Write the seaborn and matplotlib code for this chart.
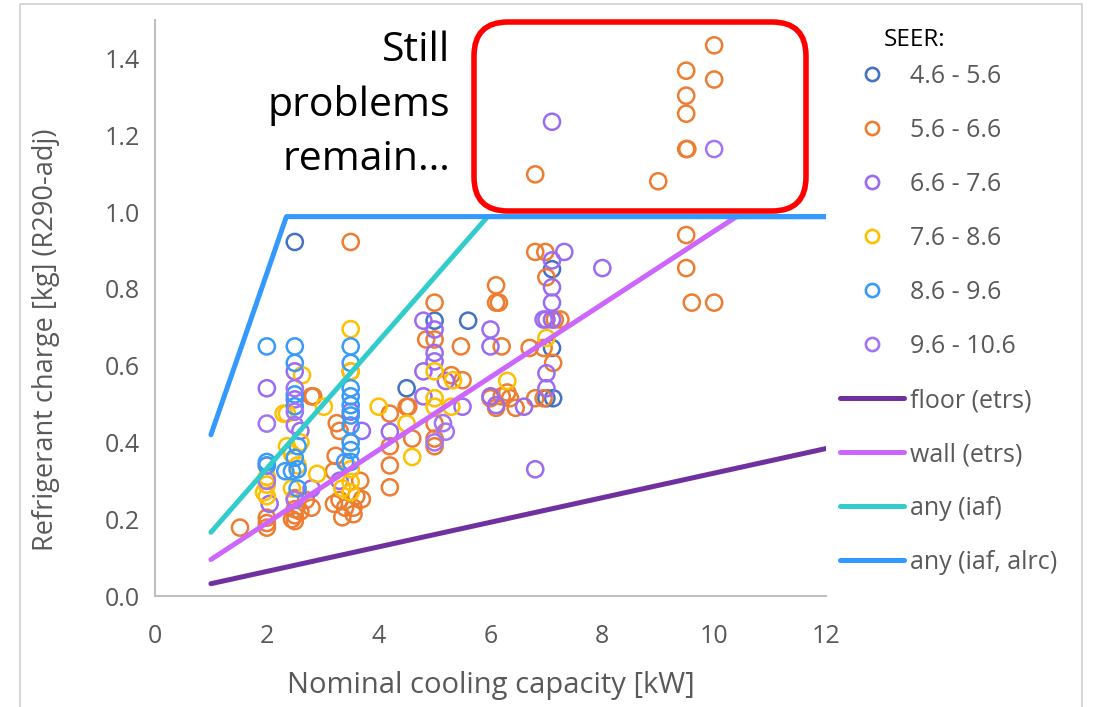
import numpy as np
import pandas as pd
import matplotlib
matplotlib.use("Agg")
import matplotlib.pyplot as plt
import seaborn as sns
from matplotlib.patches import FancyBboxPatch, Rectangle
from matplotlib.lines import Line2D

sns.set_theme(style="white")
plt.rcParams['font.family'] = ['Open Sans', 'DejaVu Sans']

# ---------------- data ----------------
seer_labels = ["4.6 - 5.6", "5.6 - 6.6", "6.6 - 7.6", "7.6 - 8.6", "8.6 - 9.6", "9.6 - 10.6"]
seer_colors = ["#4472C4", "#ED7D31", "#9B6BF2", "#FFC000", "#3A9BF7", "#A374F5"]

s1_x = [2.5, 4.5, 5.0, 5.6, 7.1, 7.1, 7.0, 7.12]
s1_y = [0.922, 0.541, 0.717, 0.717, 0.851, 0.646, 0.515, 0.515]

s2_x = [9.5, 9.5, 9.5, 9.5, 9.52, 10.0, 10.0, 6.8, 9.0,
        9.5, 9.5, 9.6, 10.0, 3.5,
        6.8, 6.98, 7.0, 6.1, 6.1, 6.15, 5.0,
        4.85, 5.0, 5.47, 6.2, 7.15, 7.25, 6.7, 6.95, 7.12,
        6.8, 6.95, 6.45, 6.3, 6.35, 6.2, 6.1, 6.0,
        5.3, 5.5, 5.0, 5.0, 5.0,
        4.2, 4.5, 4.6, 4.2, 4.2, 4.2, 4.53,
        2.8, 2.83, 3.25, 3.3, 3.23, 3.2, 3.67, 3.7, 3.2, 3.4, 3.55, 3.35, 3.55, 3.5, 3.3, 3.6,
        1.52, 2.0, 2.0, 2.0, 2.5, 2.5, 2.6, 2.5, 2.7, 2.8, 2.0, 2.5, 2.45]
s2_y = [1.368, 1.303, 1.256, 1.164, 1.164, 1.434, 1.345, 1.098, 1.08,
        0.94, 0.854, 0.764, 0.764, 0.922,
        0.896, 0.896, 0.83, 0.809, 0.764, 0.764, 0.764,
        0.668, 0.668, 0.65, 0.65, 0.72, 0.72, 0.646, 0.646, 0.607,
        0.515, 0.515, 0.49, 0.53, 0.515, 0.52, 0.49, 0.515,
        0.575, 0.562, 0.41, 0.39, 0.449,
        0.475, 0.493, 0.41, 0.39, 0.34, 0.283, 0.493,
        0.52, 0.52, 0.45, 0.43, 0.365, 0.325, 0.30, 0.252, 0.24, 0.23, 0.23, 0.205, 0.213, 0.585, 0.25, 0.26,
        0.178, 0.178, 0.204, 0.19, 0.255, 0.226, 0.22, 0.195, 0.25, 0.23, 0.34, 0.21, 0.20]

s3_x = [7.1, 6.8, 8.0, 7.32, 7.1, 7.1, 7.1, 6.95, 7.0, 7.1, 7.0, 7.0, 6.6,
        6.0, 6.0, 6.0, 6.1, 4.8, 5.0, 5.0, 5.0, 4.8, 4.8, 5.5, 5.2,
        4.2, 3.7, 3.5, 3.3, 2.0, 2.5, 2.5, 2.6, 2.8, 2.05]
s3_y = [1.235, 0.33, 0.854, 0.896, 0.874, 0.804, 0.764, 0.72, 0.72, 0.72, 0.58, 0.541, 0.493,
        0.694, 0.65, 0.52, 0.497, 0.717, 0.694, 0.633, 0.611, 0.585, 0.52, 0.493, 0.56,
        0.428, 0.43, 0.48, 0.30, 0.541, 0.585, 0.512, 0.43, 0.28, 0.24]

s4_x = [3.5, 2.63, 2.36, 2.3, 3.02, 2.36, 2.45, 2.9, 2.45, 2.0, 2.0, 2.0, 1.95,
        3.5, 3.5, 3.5, 3.35, 3.5, 3.5, 4.0, 4.5, 4.6, 5.0, 5.33, 5.0, 5.0, 5.3,
        7.0, 6.3, 2.6, 2.55]
s4_y = [0.695, 0.575, 0.475, 0.475, 0.493, 0.39, 0.37, 0.318, 0.28, 0.31, 0.29, 0.26, 0.27,
        0.585, 0.40, 0.297, 0.28, 0.33, 0.27, 0.493, 0.449, 0.362, 0.585, 0.562, 0.515, 0.493, 0.493,
        0.672, 0.56, 0.40, 0.34]

s5_x = [2.0, 2.5, 3.5, 2.5, 3.5, 2.5, 2.5, 3.5, 3.5, 3.5, 3.5, 3.5, 3.5, 3.5, 3.4,
        2.0, 2.0, 2.55, 2.33, 2.45, 2.55, 2.55, 2.5, 3.5]
s5_y = [0.65, 0.65, 0.65, 0.607, 0.607, 0.525, 0.494, 0.541, 0.52, 0.497, 0.47, 0.444, 0.40, 0.349, 0.349,
        0.349, 0.34, 0.39, 0.325, 0.325, 0.33, 0.28, 0.36, 0.38]

s6_x = [10.0, 5.15, 5.2, 5.0, 2.0, 2.5, 2.5, 2.5, 2.5, 2.0]
s6_y = [1.164, 0.45, 0.428, 0.40, 0.449, 0.541, 0.48, 0.445, 0.25, 0.30]

series_x = [s1_x, s2_x, s3_x, s4_x, s5_x, s6_x]
series_y = [s1_y, s2_y, s3_y, s4_y, s5_y, s6_y]

line_labels = ["floor (etrs)", "wall (etrs)", "any (iaf)", "any (iaf, alrc)"]
line_colors = ["#7030A0", "#CC66FF", "#33CCCC", "#3399FF"]
floor_x = [1, 2, 3, 4, 5, 6, 7, 8, 9, 10, 11, 12]
floor_y = [0.032, 0.064, 0.096, 0.128, 0.160, 0.192, 0.224, 0.256, 0.288, 0.320, 0.352, 0.384]
wall_x = [1, 2, 3, 4, 5, 6, 7, 8, 9, 10, 10.4, 12]
wall_y = [0.095, 0.19, 0.285, 0.38, 0.475, 0.57, 0.665, 0.76, 0.855, 0.95, 0.988, 0.988]
iaf_x = [1, 2, 3, 4, 5, 5.95, 12]
iaf_y = [0.166, 0.332, 0.498, 0.664, 0.83, 0.988, 0.988]
alrc_x = [1, 2, 2.35, 12]
alrc_y = [0.42, 0.84, 0.988, 0.988]
lines_x = [floor_x, wall_x, iaf_x, alrc_x]
lines_y = [floor_y, wall_y, iaf_y, alrc_y]

x_ticks = [0, 2, 4, 6, 8, 10, 12]
y_ticks = [0.0, 0.2, 0.4, 0.6, 0.8, 1.0, 1.2, 1.4]
y_tick_labels = ["0.0", "0.2", "0.4", "0.6", "0.8", "1.0", "1.2", "1.4"]

# ---------------- figure ----------------
W, H = 1094, 707
fig = plt.figure(figsize=(W / 100, H / 100), dpi=100)
fig.patch.set_facecolor("white")
ax = fig.add_axes([155 / W, 1 - 596 / H, (826 - 155) / W, (596 - 20) / H])
ax.set_facecolor("white")

for xs, ys, col in zip(series_x, series_y, seer_colors):
    sns.scatterplot(x=xs, y=ys, ax=ax, marker="o", s=135, facecolor="none",
                    edgecolor=col, linewidth=1.8, zorder=3)

for xs, ys, col in zip(lines_x, lines_y, line_colors):
    sns.lineplot(x=xs, y=ys, ax=ax, color=col, linewidth=3.6, sort=False,
                 zorder=4, solid_capstyle="round")

ax.set_xlim(0, 12)
ax.set_ylim(0, 1.5)
ax.set_xticks(x_ticks)
ax.set_yticks(y_ticks)
ax.set_yticklabels(y_tick_labels)
gray = "#595959"
spine = "#BFBFBF"
ax.tick_params(axis="both", colors=spine, labelcolor=gray, labelsize=18,
               length=8, width=1.3, direction="out")
ax.tick_params(axis="x", pad=12)
ax.tick_params(axis="y", pad=3)
for s in ["top", "right"]:
    ax.spines[s].set_visible(False)
for s in ["left", "bottom"]:
    ax.spines[s].set_color(spine)
    ax.spines[s].set_linewidth(1.5)

ax.set_xlabel("Nominal cooling capacity [kW]", fontsize=21, color=gray, labelpad=16)
ax.set_ylabel("Refrigerant charge [kg] (R290-adj)", fontsize=19.5, color=gray)
ax.yaxis.set_label_coords(-0.142, 0.445)

# legend
handles = []
for lab, col in zip(seer_labels, seer_colors):
    handles.append(Line2D([0], [0], linestyle="none", marker="o", markersize=9.5,
                          markerfacecolor="none", markeredgecolor=col,
                          markeredgewidth=1.9, label=lab))
for lab, col in zip(line_labels, line_colors):
    handles.append(Line2D([0], [0], color=col, linewidth=3.6, label=lab))
leg = fig.legend(handles=handles, loc="upper left", bbox_to_anchor=(840 / W, 1 - 64 / H),
                 frameon=False, fontsize=18, handlelength=2.55, handletextpad=0.25,
                 labelspacing=1.16, borderpad=0, borderaxespad=0)
for t in leg.get_texts():
    t.set_color(gray)
fig.text(884 / W, 1 - 40 / H, "SEER:", fontsize=17.5, color="black", va="center", ha="left")

# overlay annotation
ov = fig.add_axes([0, 0, 1, 1], zorder=10)
ov.set_xlim(0, W)
ov.set_ylim(H, 0)
ov.axis("off")
ov.add_patch(FancyBboxPatch((474, 22), 332, 189,
                            boxstyle="round,pad=0,rounding_size=34",
                            linewidth=4, edgecolor="#FF0000", facecolor="none"))
ov.text(450, 105, "Still\nproblems\nremain…", fontsize=29.5, color="black",
        ha="right", va="center", linespacing=1.45, multialignment="right")
ov.add_patch(Rectangle((20, 4), 1062, 720, linewidth=1.2, edgecolor="#D0D0D0",
                       facecolor="none"))

fig.savefig("out.png", dpi=100, facecolor="white")
